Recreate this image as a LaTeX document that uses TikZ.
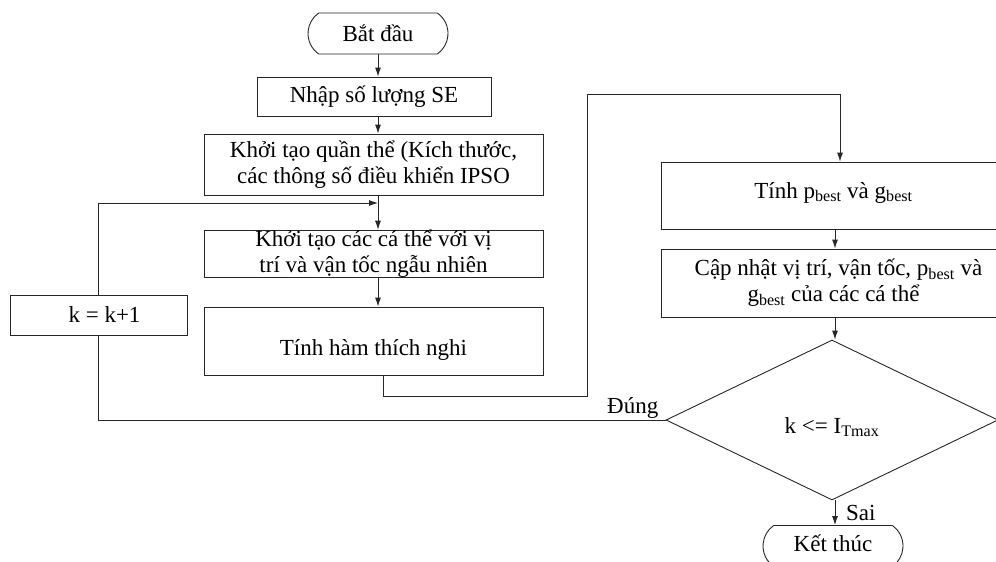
\documentclass[tikz,border=0pt]{standalone}
\usepackage{fontspec}
\setmainfont{Liberation Serif}
\usetikzlibrary{shapes.geometric,shapes.misc,arrows.meta}
\newcommand{\shiftdn}[2]{\raisebox{-#1}[\height][\depth]{#2}}
\begin{document}
\begin{tikzpicture}[x=1pt,y=-1pt,
  every node/.style={font=\fontsize{23}{26}\selectfont},
  procbox/.style={draw=black!85,line width=0.9pt,rectangle,inner sep=0pt,align=center},
  termbox/.style={draw=black!85,line width=0.9pt,rounded rectangle,rounded rectangle arc length=110,inner sep=0pt,minimum width=140pt,minimum height=41pt},
  decbox/.style={draw=black!85,line width=0.9pt,diamond,inner sep=0pt,minimum width=332pt,minimum height=160pt},
  conn/.style={draw=black!85,line width=0.9pt},
  arr/.style={conn,-{Latex[length=9pt,width=6pt]}},
  lbl/.style={inner sep=0pt}]
\useasboundingbox (0,0) rectangle (996,562);
\clip (0,0) rectangle (996,562);

\node[termbox] (start) at (378,33.5) {Bắt đầu};
\node[procbox,minimum width=234pt,minimum height=39pt] (input) at (374,96.5) {Nhập số lượng SE};
\node[procbox,minimum width=339pt,minimum height=61pt] (init) at (373.5,164.5) {Khởi tạo quần thể (Kích thước,\\các thông số điều khiển IPSO};
\node[procbox,minimum width=339pt,minimum height=46pt] (ind) at (373.5,254) {Khởi tạo các cá thể với vị\\trí và vận tốc ngẫu nhiên};
\node[procbox,minimum width=339pt,minimum height=68pt] (fit) at (373.5,341) {\shiftdn{9pt}{Tính hàm thích nghi}};
\node[procbox,minimum width=177pt,minimum height=40pt] (inc) at (98.5,315) {\hspace*{12pt}k = k+1};
\node[procbox,minimum width=355pt,minimum height=67pt] (pg) at (838.5,195.5) {\shiftdn{-3pt}{Tính p\textsubscript{best} và g\textsubscript{best}}\hspace*{10pt}};
\node[procbox,minimum width=355pt,minimum height=68pt] (upd) at (838.5,283) {Cập nhật vị trí, vận tốc, p\textsubscript{best} và\\g\textsubscript{best} của các cá thể\hspace*{10pt}};
\node[decbox] (dec) at (832,420) {\shiftdn{7pt}{k <= I\textsubscript{Tmax}}};
\node[termbox] (end) at (833,546) {\shiftdn{-3pt}{Kết thúc}};

\node[lbl,anchor=base west] (yes) at (607,413) {Đúng};
\node[lbl,anchor=base west] (no) at (846,520) {Sai};

\coordinate (colx) at (378,0);
\coordinate (loopy) at (0,203);
\coordinate (fx) at (383,396);
\coordinate (rx) at (587,94);
\coordinate (px) at (840,0);
\coordinate (qx) at (835,0);

\draw[arr] (start.south) -- (start.south |- input.north);
\draw[arr] (colx |- input.south) -- (colx |- init.north);
\draw[arr] (colx |- init.south) -- (colx |- ind.north);
\draw[arr] (colx |- ind.south) -- (colx |- fit.north);
\draw[arr] (inc.north) -- (inc.north |- loopy) -- (colx |- loopy);
\draw[arr] (fx |- fit.south) -- (fx) -| (rx) -| (px |- pg.north);
\draw[arr] (qx |- pg.south) -- (qx |- upd.north);
\draw[arr] (qx |- upd.south) -- (qx |- dec.north);
\draw[arr] (qx |- dec.south) -- (qx |- end.north);
\draw[conn] (dec.west) -- (inc.south |- dec.west) -- (inc.south);
\end{tikzpicture}
\end{document}
